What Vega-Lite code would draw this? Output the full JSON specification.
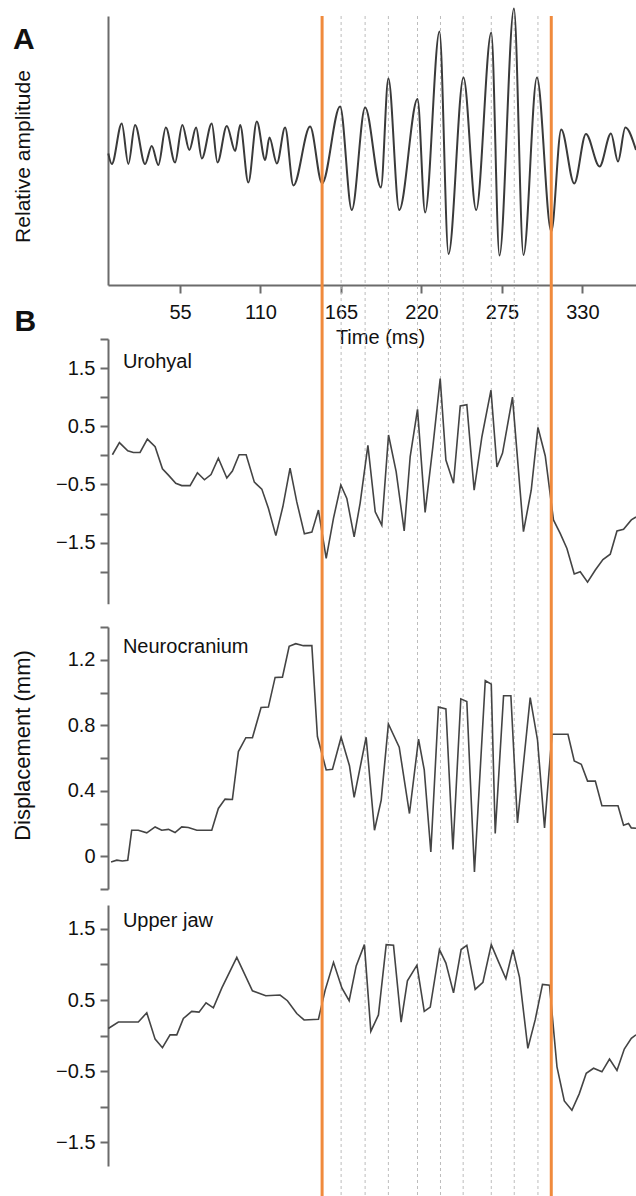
{
  "$schema": "https://vega.github.io/schema/vega-lite/v6.json",
  "width": 528,
  "height": 1180,
  "autosize": {"type": "none"},
  "padding": {"left": 108, "top": 16, "right": 0, "bottom": 0},
  "background": "white",
  "config": {
    "view": {"stroke": null},
    "font": "Liberation Sans",
    "axis": {"domainColor": "#6b6b6b", "domainWidth": 2, "tickColor": "#6b6b6b", "tickWidth": 2, "tickSize": 8, "labelFont": "Liberation Sans", "labelFontSize": 20, "labelColor": "#111111", "titleFont": "Liberation Sans", "titleFontWeight": "normal", "titleColor": "#111111", "grid": false, "labelOverlap": false, "labelFlush": false}
  },
  "title": {"text": "A", "anchor": "start", "frame": "group", "orient": "top", "fontSize": 30, "fontWeight": "bold", "font": "Liberation Sans", "color": "#111111", "baseline": "alphabetic", "offset": 0, "dx": -95, "dy": 74},
  "datasets": {
    "rules": [
      {"kind": "dash", "t": 165.1}, {"kind": "dash", "t": 181.5}, {"kind": "dash", "t": 197.4}, {"kind": "dash", "t": 217.3}, {"kind": "dash", "t": 233.0}, {"kind": "dash", "t": 248.5}, {"kind": "dash", "t": 267.7}, {"kind": "dash", "t": 283.4}, {"kind": "dash", "t": 299.6},
      {"kind": "orange", "t": 152.1}, {"kind": "orange", "t": 308.7}
    ],
    "amp": [
      {"t":6.0,"v":-0.17},{"t":8.4,"v":-0.38},{"t":15.2,"v":0.43},{"t":19.7,"v":-0.38},{"t":24.3,"v":0.40},{"t":31.1,"v":-0.38},{"t":35.7,"v":-0.02},{"t":40.2,"v":-0.40},{"t":45.3,"v":0.35},{"t":51.6,"v":-0.35},{"t":56.6,"v":0.40},{"t":61.4,"v":-0.10},{"t":66.0,"v":0.35},{"t":69.9,"v":-0.27},{"t":76.7,"v":0.43},{"t":80.6,"v":-0.35},{"t":87.0,"v":0.38},{"t":92.7,"v":-0.12},{"t":96.1,"v":0.40},{"t":101.7,"v":-0.75},{"t":107.5,"v":0.47},{"t":113.2,"v":-0.30},{"t":116.1,"v":0.15},{"t":121.2,"v":-0.37},{"t":126.8,"v":0.35},{"t":132.5,"v":-0.81},{"t":143.9,"v":0.37},{"t":152.1,"v":-0.77},{"t":164.4,"v":0.77},{"t":172.4,"v":-1.30},{"t":181.5,"v":0.75},{"t":192.3,"v":-0.85},{"t":197.4,"v":1.33},{"t":204.8,"v":-1.30},{"t":217.3,"v":0.92},{"t":222.5,"v":-1.35},{"t":232.3,"v":2.27},{"t":238.5,"v":-2.18},{"t":248.7,"v":1.35},{"t":257.4,"v":-1.30},{"t":267.7,"v":2.25},{"t":273.3,"v":-2.21},{"t":283.2,"v":2.73},{"t":289.7,"v":-2.20},{"t":298.9,"v":1.35},{"t":308.7,"v":-1.73},{"t":315.5,"v":0.31},{"t":324.4,"v":-0.77},{"t":332.4,"v":0.22},{"t":341.7,"v":-0.43},{"t":349.5,"v":0.23},{"t":354.3,"v":-0.33},{"t":359.3,"v":0.35},{"t":366.6,"v":-0.10}
    ],
    "disp": [
      {"panel":"Urohyal","t":8.8,"v":0.01},{"panel":"Urohyal","t":13.6,"v":0.22},{"panel":"Urohyal","t":19.3,"v":0.08},{"panel":"Urohyal","t":23.1,"v":0.05},{"panel":"Urohyal","t":27.7,"v":0.05},{"panel":"Urohyal","t":32.7,"v":0.28},{"panel":"Urohyal","t":38.0,"v":0.15},{"panel":"Urohyal","t":43.0,"v":-0.23},{"panel":"Urohyal","t":47.1,"v":-0.34},{"panel":"Urohyal","t":52.1,"v":-0.48},{"panel":"Urohyal","t":56.2,"v":-0.52},{"panel":"Urohyal","t":61.9,"v":-0.52},{"panel":"Urohyal","t":66.9,"v":-0.30},{"panel":"Urohyal","t":71.7,"v":-0.42},{"panel":"Urohyal","t":76.2,"v":-0.33},{"panel":"Urohyal","t":81.2,"v":-0.05},{"panel":"Urohyal","t":87.0,"v":-0.39},{"panel":"Urohyal","t":90.8,"v":-0.27},{"panel":"Urohyal","t":95.4,"v":0.01},{"panel":"Urohyal","t":100.2,"v":0.01},{"panel":"Urohyal","t":105.8,"v":-0.46},{"panel":"Urohyal","t":110.9,"v":-0.58},{"panel":"Urohyal","t":115.4,"v":-0.91},{"panel":"Urohyal","t":120.5,"v":-1.38},{"panel":"Urohyal","t":125.3,"v":-0.88},{"panel":"Urohyal","t":130.2,"v":-0.22},{"panel":"Urohyal","t":134.8,"v":-0.80},{"panel":"Urohyal","t":140.0,"v":-1.35},{"panel":"Urohyal","t":145.1,"v":-1.32},{"panel":"Urohyal","t":149.6,"v":-0.94},{"panel":"Urohyal","t":154.9,"v":-1.77},{"panel":"Urohyal","t":159.9,"v":-1.08},{"panel":"Urohyal","t":164.9,"v":-0.51},{"panel":"Urohyal","t":169.0,"v":-0.74},{"panel":"Urohyal","t":174.0,"v":-1.40},{"panel":"Urohyal","t":178.1,"v":-0.82},{"panel":"Urohyal","t":183.4,"v":0.17},{"panel":"Urohyal","t":188.4,"v":-0.97},{"panel":"Urohyal","t":192.9,"v":-1.20},{"panel":"Urohyal","t":197.5,"v":0.35},{"panel":"Urohyal","t":202.7,"v":-0.28},{"panel":"Urohyal","t":208.2,"v":-1.30},{"panel":"Urohyal","t":212.3,"v":-0.02},{"panel":"Urohyal","t":217.3,"v":0.79},{"panel":"Urohyal","t":222.5,"v":-0.98},{"panel":"Urohyal","t":227.8,"v":0.15},{"panel":"Urohyal","t":232.8,"v":1.32},{"panel":"Urohyal","t":236.7,"v":-0.08},{"panel":"Urohyal","t":241.9,"v":-0.48},{"panel":"Urohyal","t":246.5,"v":0.85},{"panel":"Urohyal","t":251.0,"v":0.87},{"panel":"Urohyal","t":256.0,"v":-0.60},{"panel":"Urohyal","t":261.3,"v":0.32},{"panel":"Urohyal","t":267.5,"v":1.12},{"panel":"Urohyal","t":271.6,"v":-0.20},{"panel":"Urohyal","t":275.4,"v":0.04},{"panel":"Urohyal","t":282.2,"v":1.00},{"panel":"Urohyal","t":289.7,"v":-1.31},{"panel":"Urohyal","t":295.0,"v":-0.60},{"panel":"Urohyal","t":299.6,"v":0.48},{"panel":"Urohyal","t":304.6,"v":-0.01},{"panel":"Urohyal","t":310.2,"v":-1.11},{"panel":"Urohyal","t":314.8,"v":-1.34},{"panel":"Urohyal","t":319.4,"v":-1.60},{"panel":"Urohyal","t":324.4,"v":-2.04},{"panel":"Urohyal","t":328.5,"v":-2.00},{"panel":"Urohyal","t":333.5,"v":-2.18},{"panel":"Urohyal","t":338.8,"v":-1.97},{"panel":"Urohyal","t":344.0,"v":-1.79},{"panel":"Urohyal","t":349.0,"v":-1.70},{"panel":"Urohyal","t":353.6,"v":-1.30},{"panel":"Urohyal","t":358.1,"v":-1.27},{"panel":"Urohyal","t":363.4,"v":-1.11},{"panel":"Urohyal","t":366.6,"v":-1.06},
      {"panel":"Neurocranium","t":7.9,"v":-0.035},{"panel":"Neurocranium","t":11.8,"v":-0.024},{"panel":"Neurocranium","t":15.6,"v":-0.029},{"panel":"Neurocranium","t":19.3,"v":-0.024},{"panel":"Neurocranium","t":22.0,"v":0.159},{"panel":"Neurocranium","t":26.5,"v":0.159},{"panel":"Neurocranium","t":32.3,"v":0.143},{"panel":"Neurocranium","t":38.0,"v":0.179},{"panel":"Neurocranium","t":42.5,"v":0.159},{"panel":"Neurocranium","t":47.1,"v":0.164},{"panel":"Neurocranium","t":51.6,"v":0.145},{"panel":"Neurocranium","t":56.2,"v":0.179},{"panel":"Neurocranium","t":60.7,"v":0.176},{"panel":"Neurocranium","t":66.5,"v":0.159},{"panel":"Neurocranium","t":76.7,"v":0.159},{"panel":"Neurocranium","t":81.2,"v":0.292},{"panel":"Neurocranium","t":85.8,"v":0.349},{"panel":"Neurocranium","t":90.8,"v":0.347},{"panel":"Neurocranium","t":94.9,"v":0.639},{"panel":"Neurocranium","t":100.0,"v":0.724},{"panel":"Neurocranium","t":104.5,"v":0.724},{"panel":"Neurocranium","t":110.4,"v":0.908},{"panel":"Neurocranium","t":115.4,"v":0.911},{"panel":"Neurocranium","t":120.0,"v":1.092},{"panel":"Neurocranium","t":125.0,"v":1.094},{"panel":"Neurocranium","t":129.6,"v":1.282},{"panel":"Neurocranium","t":134.1,"v":1.298},{"panel":"Neurocranium","t":139.3,"v":1.286},{"panel":"Neurocranium","t":145.1,"v":1.286},{"panel":"Neurocranium","t":148.9,"v":0.731},{"panel":"Neurocranium","t":154.9,"v":0.527},{"panel":"Neurocranium","t":159.2,"v":0.531},{"panel":"Neurocranium","t":165.1,"v":0.727},{"panel":"Neurocranium","t":170.8,"v":0.553},{"panel":"Neurocranium","t":174.0,"v":0.359},{"panel":"Neurocranium","t":182.2,"v":0.727},{"panel":"Neurocranium","t":187.9,"v":0.159},{"panel":"Neurocranium","t":192.5,"v":0.343},{"panel":"Neurocranium","t":197.4,"v":0.808},{"panel":"Neurocranium","t":204.8,"v":0.666},{"panel":"Neurocranium","t":211.8,"v":0.261},{"panel":"Neurocranium","t":218.0,"v":0.715},{"panel":"Neurocranium","t":221.9,"v":0.527},{"panel":"Neurocranium","t":226.4,"v":0.026},{"panel":"Neurocranium","t":231.6,"v":0.911},{"panel":"Neurocranium","t":236.7,"v":0.900},{"panel":"Neurocranium","t":241.5,"v":0.041},{"panel":"Neurocranium","t":246.9,"v":0.961},{"panel":"Neurocranium","t":251.0,"v":0.945},{"panel":"Neurocranium","t":256.2,"v":-0.096},{"panel":"Neurocranium","t":263.6,"v":1.072},{"panel":"Neurocranium","t":267.7,"v":1.051},{"panel":"Neurocranium","t":270.4,"v":0.139},{"panel":"Neurocranium","t":276.1,"v":0.980},{"panel":"Neurocranium","t":281.1,"v":0.980},{"panel":"Neurocranium","t":285.6,"v":0.204},{"panel":"Neurocranium","t":294.3,"v":0.969},{"panel":"Neurocranium","t":299.3,"v":0.710},{"panel":"Neurocranium","t":304.1,"v":0.173},{"panel":"Neurocranium","t":309.2,"v":0.745},{"panel":"Neurocranium","t":320.1,"v":0.745},{"panel":"Neurocranium","t":324.4,"v":0.582},{"panel":"Neurocranium","t":329.2,"v":0.562},{"panel":"Neurocranium","t":333.5,"v":0.459},{"panel":"Neurocranium","t":338.8,"v":0.459},{"panel":"Neurocranium","t":343.3,"v":0.308},{"panel":"Neurocranium","t":354.3,"v":0.308},{"panel":"Neurocranium","t":358.1,"v":0.190},{"panel":"Neurocranium","t":361.5,"v":0.200},{"panel":"Neurocranium","t":363.4,"v":0.173},{"panel":"Neurocranium","t":366.6,"v":0.171},
      {"panel":"Upper jaw","t":6.0,"v":0.10},{"panel":"Upper jaw","t":12.9,"v":0.19},{"panel":"Upper jaw","t":19.7,"v":0.19},{"panel":"Upper jaw","t":26.5,"v":0.19},{"panel":"Upper jaw","t":32.3,"v":0.32},{"panel":"Upper jaw","t":38.0,"v":-0.05},{"panel":"Upper jaw","t":43.0,"v":-0.17},{"panel":"Upper jaw","t":48.2,"v":0.01},{"panel":"Upper jaw","t":52.8,"v":0.01},{"panel":"Upper jaw","t":57.3,"v":0.24},{"panel":"Upper jaw","t":63.0,"v":0.34},{"panel":"Upper jaw","t":68.0,"v":0.33},{"panel":"Upper jaw","t":72.8,"v":0.46},{"panel":"Upper jaw","t":77.8,"v":0.39},{"panel":"Upper jaw","t":83.6,"v":0.67},{"panel":"Upper jaw","t":93.8,"v":1.10},{"panel":"Upper jaw","t":104.5,"v":0.63},{"panel":"Upper jaw","t":113.6,"v":0.56},{"panel":"Upper jaw","t":123.4,"v":0.57},{"panel":"Upper jaw","t":128.4,"v":0.49},{"panel":"Upper jaw","t":134.8,"v":0.31},{"panel":"Upper jaw","t":139.8,"v":0.22},{"panel":"Upper jaw","t":149.6,"v":0.23},{"panel":"Upper jaw","t":154.2,"v":0.64},{"panel":"Upper jaw","t":159.9,"v":1.03},{"panel":"Upper jaw","t":165.6,"v":0.67},{"panel":"Upper jaw","t":170.6,"v":0.49},{"panel":"Upper jaw","t":175.4,"v":0.98},{"panel":"Upper jaw","t":181.0,"v":1.28},{"panel":"Upper jaw","t":185.4,"v":0.06},{"panel":"Upper jaw","t":190.6,"v":0.29},{"panel":"Upper jaw","t":195.9,"v":1.28},{"panel":"Upper jaw","t":200.9,"v":1.27},{"panel":"Upper jaw","t":206.1,"v":0.19},{"panel":"Upper jaw","t":210.4,"v":0.77},{"panel":"Upper jaw","t":216.9,"v":0.99},{"panel":"Upper jaw","t":221.9,"v":0.34},{"panel":"Upper jaw","t":226.0,"v":0.40},{"panel":"Upper jaw","t":232.3,"v":1.21},{"panel":"Upper jaw","t":236.7,"v":1.02},{"panel":"Upper jaw","t":241.9,"v":0.60},{"panel":"Upper jaw","t":247.1,"v":1.21},{"panel":"Upper jaw","t":251.0,"v":1.27},{"panel":"Upper jaw","t":256.7,"v":0.65},{"panel":"Upper jaw","t":262.0,"v":0.75},{"panel":"Upper jaw","t":267.7,"v":1.28},{"panel":"Upper jaw","t":272.6,"v":1.04},{"panel":"Upper jaw","t":277.7,"v":0.80},{"panel":"Upper jaw","t":282.5,"v":1.21},{"panel":"Upper jaw","t":287.0,"v":0.82},{"panel":"Upper jaw","t":292.7,"v":-0.18},{"panel":"Upper jaw","t":297.7,"v":0.22},{"panel":"Upper jaw","t":302.7,"v":0.72},{"panel":"Upper jaw","t":307.5,"v":0.71},{"panel":"Upper jaw","t":312.6,"v":-0.44},{"panel":"Upper jaw","t":317.6,"v":-0.92},{"panel":"Upper jaw","t":322.8,"v":-1.05},{"panel":"Upper jaw","t":327.8,"v":-0.82},{"panel":"Upper jaw","t":332.6,"v":-0.53},{"panel":"Upper jaw","t":337.6,"v":-0.46},{"panel":"Upper jaw","t":343.3,"v":-0.51},{"panel":"Upper jaw","t":348.5,"v":-0.33},{"panel":"Upper jaw","t":353.6,"v":-0.49},{"panel":"Upper jaw","t":358.6,"v":-0.19},{"panel":"Upper jaw","t":363.4,"v":-0.04},{"panel":"Upper jaw","t":366.6,"v":0.01}
    ]
  },
  "layer": [
    {
      "data": {"name": "rules"},
      "transform": [{"filter": "datum.kind == 'dash'"}],
      "mark": {"type": "rule", "color": "#bdbdbd", "strokeWidth": 1, "strokeDash": [3, 3]},
      "encoding": {
        "x": {"field": "t", "type": "quantitative", "scale": {"domain": [5.8, 366.6], "nice": false, "zero": false},
          "axis": {"orient": "bottom", "offset": -911, "values": [55, 110, 165, 220, 275, 330], "labelPadding": 9, "title": "Time (ms)", "titleFontSize": 20, "titleX": 272, "titleY": 58, "titleBaseline": "alphabetic", "titleAlign": "center"}}
      }
    },
    {
      "data": {"name": "amp"},
      "mark": {"type": "line", "interpolate": "monotone", "color": "#3a3a3a", "strokeWidth": 2},
      "encoding": {
        "x": {"field": "t", "type": "quantitative", "scale": {"domain": [5.8, 366.6], "nice": false, "zero": false},
          "axis": {"orient": "bottom", "offset": -911, "values": [55, 110, 165, 220, 275, 330], "labelPadding": 9, "title": "Time (ms)", "titleFontSize": 20, "titleX": 272, "titleY": 58, "titleBaseline": "alphabetic", "titleAlign": "center"}},
        "y": {"field": "v", "type": "quantitative", "scale": {"domain": [-2.8, 2.58], "range": [269, 0], "nice": false, "zero": false},
          "axis": {"orient": "left", "ticks": false, "labels": false, "title": "Relative amplitude", "titleFontSize": 21, "titleAngle": 270, "titleAlign": "center", "titleBaseline": "alphabetic", "titleX": -79, "titleY": 140}}
      }
    },
    {
      "layer": [
        {
          "data": {"name": "disp"},
          "transform": [{"filter": "datum.panel == 'Urohyal'"}],
          "mark": {"type": "line", "color": "#444444", "strokeWidth": 1.6},
          "encoding": {
            "x": {"field": "t", "type": "quantitative", "scale": {"domain": [5.8, 366.6], "nice": false, "zero": false},
              "axis": {"orient": "bottom", "offset": -911, "values": [55, 110, 165, 220, 275, 330], "labelPadding": 9, "title": "Time (ms)", "titleFontSize": 20, "titleX": 272, "titleY": 58, "titleBaseline": "alphabetic", "titleAlign": "center"}},
            "y": {"field": "v", "type": "quantitative", "scale": {"domain": [-2.55, 2.0], "range": [587.7, 323], "nice": false, "zero": false},
              "axis": {"orient": "left", "values": [-2, -1.5, -1, -0.5, 0, 0.5, 1, 1.5, 2], "labelExpr": "(abs(datum.value) == 0.5 || abs(datum.value) == 1.5) ? format(datum.value, '.1f') : ''", "labelPadding": 5, "title": "B", "titleAngle": 0, "titleFontSize": 30, "titleFontWeight": "bold", "titleAlign": "left", "titleBaseline": "alphabetic", "titleX": -94, "titleY": 314}}
          }
        },
        {
          "data": {"values": [{"label": "Urohyal"}]},
          "mark": {"type": "text", "align": "left", "baseline": "alphabetic", "fontSize": 20, "font": "Liberation Sans", "color": "#111111"},
          "encoding": {
            "x": {"datum": 16, "type": "quantitative", "scale": {"domain": [5.8, 366.6], "nice": false, "zero": false}},
            "y": {"datum": 1.5, "type": "quantitative", "scale": {"domain": [-2.55, 2.0], "range": [587.7, 323], "nice": false, "zero": false}},
            "text": {"field": "label"}
          }
        }
      ]
    },
    {
      "layer": [
        {
          "data": {"name": "disp"},
          "transform": [{"filter": "datum.panel == 'Neurocranium'"}],
          "mark": {"type": "line", "color": "#444444", "strokeWidth": 1.6},
          "encoding": {
            "x": {"field": "t", "type": "quantitative", "scale": {"domain": [5.8, 366.6], "nice": false, "zero": false},
              "axis": {"orient": "bottom", "offset": -911, "values": [55, 110, 165, 220, 275, 330], "labelPadding": 9, "title": "Time (ms)", "titleFontSize": 20, "titleX": 272, "titleY": 58, "titleBaseline": "alphabetic", "titleAlign": "center"}},
            "y": {"field": "v", "type": "quantitative", "scale": {"domain": [-0.2, 1.4], "range": [873, 611], "nice": false, "zero": false},
              "axis": {"orient": "left", "values": [-0.2, 0, 0.2, 0.4, 0.6, 0.8, 1.0, 1.2, 1.4], "labelExpr": "datum.value == 0 ? '0' : ((datum.value == 0.4 || datum.value == 0.8 || datum.value == 1.2) ? format(datum.value, '.1f') : '')", "labelPadding": 5, "title": "Displacement (mm)", "titleFontSize": 22, "titleAngle": 270, "titleAlign": "center", "titleBaseline": "alphabetic", "titleX": -79, "titleY": 729}}
          }
        },
        {
          "data": {"values": [{"label": "Neurocranium"}]},
          "mark": {"type": "text", "align": "left", "baseline": "alphabetic", "fontSize": 20, "font": "Liberation Sans", "color": "#111111"},
          "encoding": {
            "x": {"datum": 16, "type": "quantitative", "scale": {"domain": [5.8, 366.6], "nice": false, "zero": false}},
            "y": {"datum": 1.239, "type": "quantitative", "scale": {"domain": [-0.2, 1.4], "range": [873, 611], "nice": false, "zero": false}},
            "text": {"field": "label"}
          }
        }
      ]
    },
    {
      "layer": [
        {
          "data": {"name": "disp"},
          "transform": [{"filter": "datum.panel == 'Upper jaw'"}],
          "mark": {"type": "line", "color": "#444444", "strokeWidth": 1.6},
          "encoding": {
            "x": {"field": "t", "type": "quantitative", "scale": {"domain": [5.8, 366.6], "nice": false, "zero": false},
              "axis": {"orient": "bottom", "offset": -911, "values": [55, 110, 165, 220, 275, 330], "labelPadding": 9, "title": "Time (ms)", "titleFontSize": 20, "titleX": 272, "titleY": 58, "titleBaseline": "alphabetic", "titleAlign": "center"}},
            "y": {"field": "v", "type": "quantitative", "scale": {"domain": [-1.835, 1.837], "range": [1150, 889], "nice": false, "zero": false},
              "axis": {"orient": "left", "values": [-1.5, -1, -0.5, 0, 0.5, 1, 1.5], "labelExpr": "(abs(datum.value) == 0.5 || abs(datum.value) == 1.5) ? format(datum.value, '.1f') : ''", "labelPadding": 5, "title": null}}
          }
        },
        {
          "data": {"values": [{"label": "Upper jaw"}]},
          "mark": {"type": "text", "align": "left", "baseline": "alphabetic", "fontSize": 20, "font": "Liberation Sans", "color": "#111111"},
          "encoding": {
            "x": {"datum": 16, "type": "quantitative", "scale": {"domain": [5.8, 366.6], "nice": false, "zero": false}},
            "y": {"datum": 1.532, "type": "quantitative", "scale": {"domain": [-1.835, 1.837], "range": [1150, 889], "nice": false, "zero": false}},
            "text": {"field": "label"}
          }
        }
      ]
    },
    {
      "data": {"name": "rules"},
      "transform": [{"filter": "datum.kind == 'orange'"}],
      "mark": {"type": "rule", "color": "#f08a3c", "strokeWidth": 3},
      "encoding": {
        "x": {"field": "t", "type": "quantitative", "scale": {"domain": [5.8, 366.6], "nice": false, "zero": false},
          "axis": {"orient": "bottom", "offset": -911, "values": [55, 110, 165, 220, 275, 330], "labelPadding": 9, "title": "Time (ms)", "titleFontSize": 20, "titleX": 272, "titleY": 58, "titleBaseline": "alphabetic", "titleAlign": "center"}}
      }
    }
  ],
  "resolve": {"scale": {"y": "independent"}, "axis": {"y": "independent"}}
}
